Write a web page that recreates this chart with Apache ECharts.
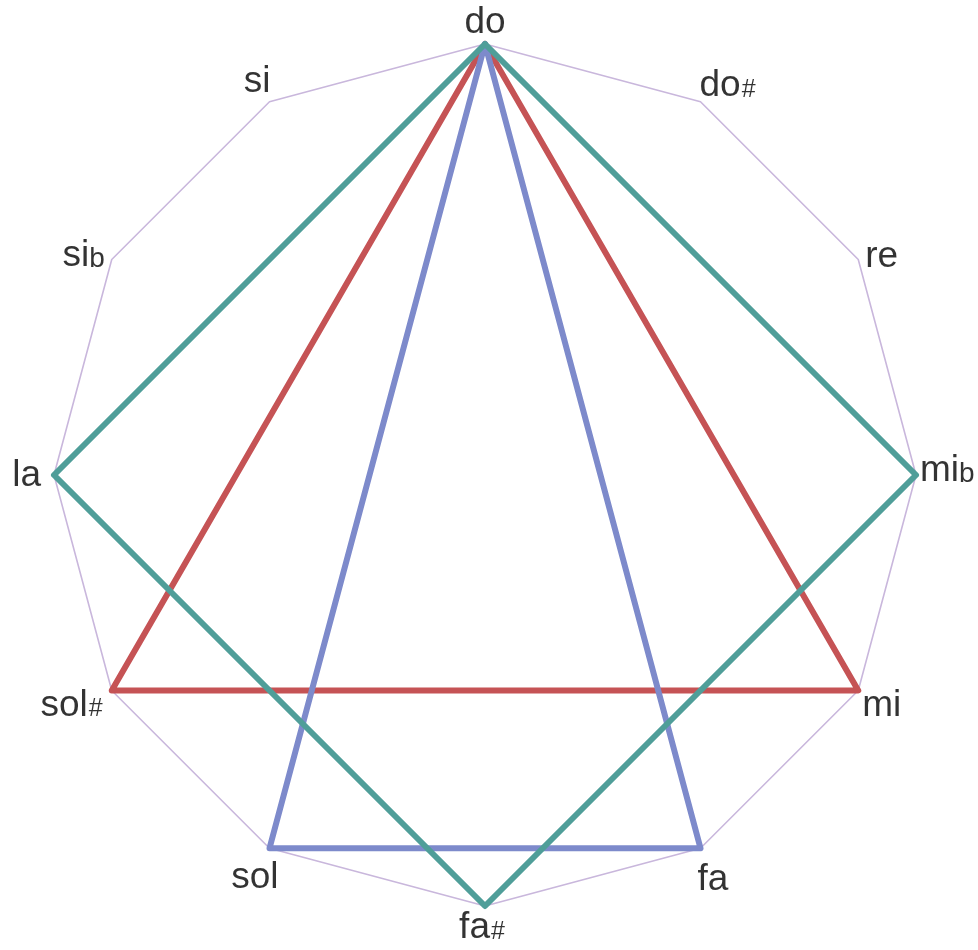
<!DOCTYPE html>
<html><head><meta charset="utf-8">
<script src="https://cdn.jsdelivr.net/npm/echarts@6/dist/echarts.min.js"></script>
<style>html,body{margin:0;padding:0;background:#fff}#c{width:978px;height:950px}</style>
</head><body><div id="c"></div>
<script>
// Chromatic circle (12 notes, clockwise from the top)
const notes = ['do', 'do#', 're', 'mib', 'mi', 'fa', 'fa#', 'sol', 'sol#', 'la', 'sib', 'si'];
// Figures drawn inside the circle (closed polygons)
const diminishedSeventh = ['do', 'mib', 'fa#', 'la'];
const augmentedTriad = ['do', 'mi', 'sol#'];
const sus4Triad = ['do', 'fa', 'sol'];

// ---- layout / style (kept apart from the data) ----
const labelLayout = {
  'do':   ['center', 0, -21],
  'do#':  ['left', -1, -16],
  're':   ['left', 7, -3],
  'mib':  ['left', 4, -4],
  'mi':   ['left', 4, 15],
  'fa':   ['left', -3, 32],
  'fa#':  ['center', -3, 22],
  'sol':  ['right', 9, 30],
  'sol#': ['right', -9, 15],
  'la':   ['right', -13, 1],
  'sib':  ['right', -7, -4],
  'si':   ['right', 1, -20]
};
const colors = { outline: '#c9b7dc', teal: '#4f9e99', red: '#c55355', blue: '#7d8acb' };
const FONT = 'Liberation Sans, Arial, sans-serif';
const R = 431;          // pixel radius of the circle of notes
const RMAX = 1.08;      // radius axis head-room so strokes are not clipped

function closed(list) {
  const pts = list.map(n => [1, notes.indexOf(n)]);
  pts.push([1, notes.indexOf(list[0])]);
  return pts;
}
function richName(n) {
  if (n.endsWith('#')) return '{m|' + n.slice(0, -1) + '}{h|#}';
  if (n === 'mib' || n === 'sib') return '{m|' + n.slice(0, -1) + '}{f|b}';
  return '{m|' + n + '}';
}
function polyLine(list, color, width, z) {
  return {
    type: 'line', coordinateSystem: 'polar', data: closed(list), clip: false,
    symbol: 'none', z: z, silent: true,
    lineStyle: { color: color, width: width, join: 'round', cap: 'round' }
  };
}

const chart = echarts.init(document.getElementById('c'), null, { renderer: 'canvas' });
chart.setOption({
  animation: false,
  backgroundColor: '#ffffff',
  polar: { center: [485, 475], radius: R * RMAX },
  angleAxis: {
    type: 'value', min: 0, max: notes.length, startAngle: 90, clockwise: true,
    axisLine: { show: false }, axisTick: { show: false }, axisLabel: { show: false }, splitLine: { show: false }
  },
  radiusAxis: {
    type: 'value', min: 0, max: RMAX,
    axisLine: { show: false }, axisTick: { show: false }, axisLabel: { show: false }, splitLine: { show: false }
  },
  series: [
    polyLine(notes, colors.outline, 1.6, 1),
    polyLine(augmentedTriad, colors.red, 6, 2),
    polyLine(sus4Triad, colors.blue, 6, 3),
    polyLine(diminishedSeventh, colors.teal, 6, 4),
    {
      type: 'scatter', coordinateSystem: 'polar', symbolSize: 1, z: 5, silent: true, clip: false,
      itemStyle: { color: 'transparent' },
      data: notes.map((n, i) => ({
        name: n, value: [1, i],
        label: { align: labelLayout[n][0], offset: [labelLayout[n][1], labelLayout[n][2]] }
      })),
      label: {
        show: true, position: 'inside', verticalAlign: 'middle', color: '#000',
        formatter: p => richName(p.name),
        rich: {
          m: { fontSize: 37, fontFamily: FONT, color: '#000', verticalAlign: 'bottom' },
          h: { fontSize: 25, fontFamily: FONT, color: '#000', verticalAlign: 'bottom', padding: [0, 0, 2, 1] },
          f: { fontSize: 28, fontFamily: FONT, color: '#000', verticalAlign: 'bottom', padding: [0, 0, 1, 0] }
        }
      }
    }
  ]
});
</script>
</body></html>
